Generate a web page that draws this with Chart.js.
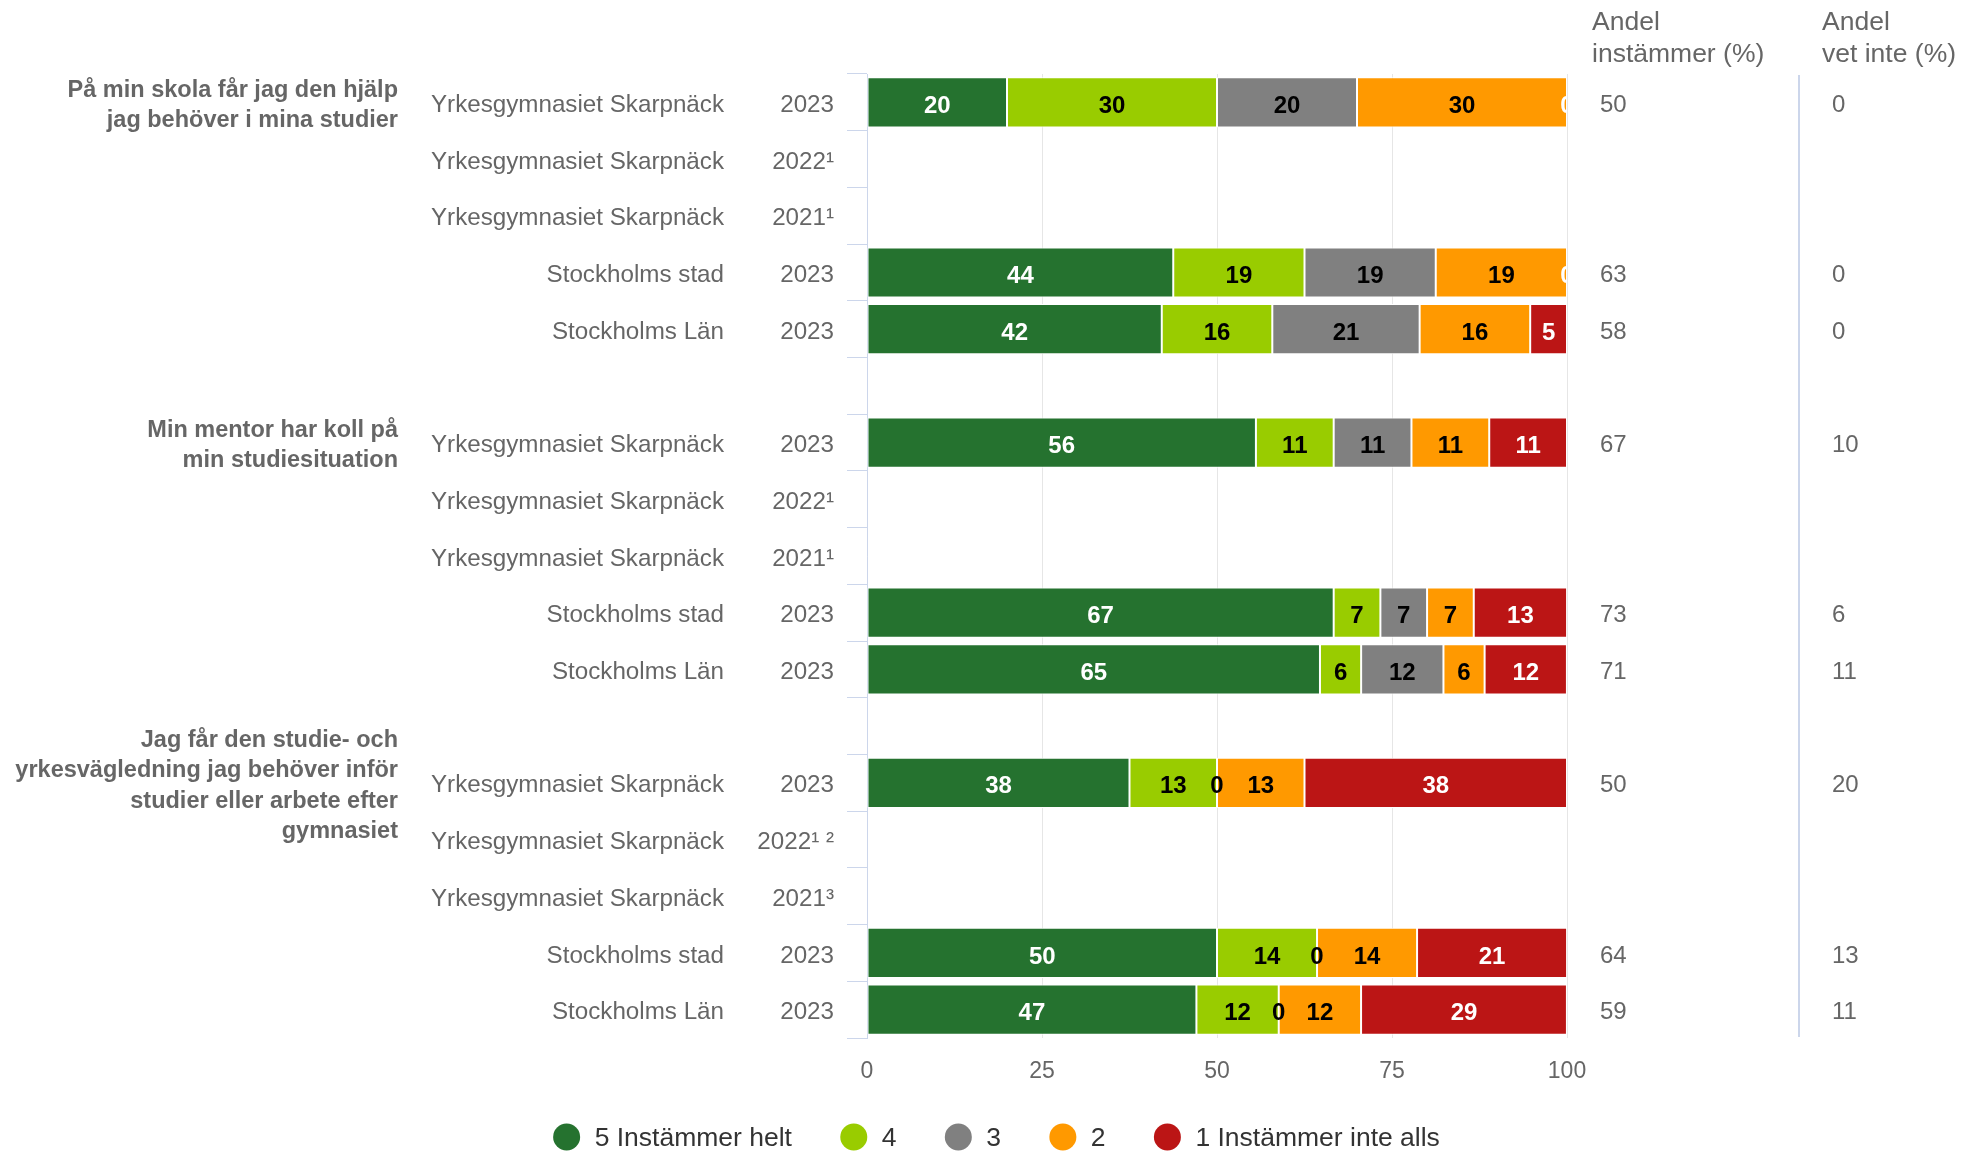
<!DOCTYPE html>
<html>
<head>
<meta charset="utf-8">
<script src="https://cdn.jsdelivr.net/npm/chart.js@4.4.1/dist/chart.umd.min.js"></script>
<style>
    html, body { margin: 0; padding: 0; background: #fff; }
    #wrap { width: 1962px; height: 1152px; position: relative; }
</style>
</head>
<body>
<div id="wrap"><canvas id="chart"></canvas></div>
<script>
    "use strict";

    // Rows (two empty spacer rows between the questions)
    const units = [
        "Yrkesgymnasiet Skarpnäck", "Yrkesgymnasiet Skarpnäck", "Yrkesgymnasiet Skarpnäck", "Stockholms stad", "Stockholms Län",
        "",
        "Yrkesgymnasiet Skarpnäck", "Yrkesgymnasiet Skarpnäck", "Yrkesgymnasiet Skarpnäck", "Stockholms stad", "Stockholms Län",
        "",
        "Yrkesgymnasiet Skarpnäck", "Yrkesgymnasiet Skarpnäck", "Yrkesgymnasiet Skarpnäck", "Stockholms stad", "Stockholms Län",
    ];
    const years = [
        "2023", "2022¹", "2021¹", "2023", "2023",
        "",
        "2023", "2022¹", "2021¹", "2023", "2023",
        "",
        "2023", "2022¹ ²", "2021³", "2023", "2023",
    ];

    const questions = [
        ["På min skola får jag den hjälp", "jag behöver i mina studier"],
        ["Min mentor har koll på", "min studiesituation"],
        ["Jag får den studie- och", "yrkesvägledning jag behöver inför", "studier eller arbete efter", "gymnasiet"],
    ];
    const questionRows = [0, 6, 12];

    // Answer shares in percent per row
    const helt5 = [20, null, null, 43.75, 42.11, null, 55.56, null, null, 66.67, 64.71, null, 37.5, null, null, 50, 47.06];
    const val4 = [30, null, null, 18.75, 15.79, null, 11.11, null, null, 6.67, 5.88, null, 12.5, null, null, 14.29, 11.76];
    const val3 = [20, null, null, 18.75, 21.05, null, 11.11, null, null, 6.67, 11.76, null, 0, null, null, 0, 0];
    const val2 = [30, null, null, 18.75, 15.79, null, 11.11, null, null, 6.67, 5.88, null, 12.5, null, null, 14.29, 11.76];
    const inteAlls1 = [0, null, null, 0, 5.26, null, 11.11, null, null, 13.33, 11.76, null, 37.5, null, null, 21.43, 29.41];

    const andelInstammer = [50, null, null, 63, 58, null, 67, null, null, 73, 71, null, 50, null, null, 64, 59];
    const andelVetInte = [0, null, null, 0, 0, null, 10, null, null, 6, 11, null, 20, null, null, 13, 11];

    const seriesNames = ["5 Instämmer helt", "4", "3", "2", "1 Instämmer inte alls"];
    const seriesColors = ["#25722f", "#99cc00", "#808080", "#ff9900", "#bb1515"];
    const labelColors = ["#ffffff", "#000000", "#000000", "#000000", "#ffffff"];

    const FONT = '"Liberation Sans", Arial, Helvetica, sans-serif';

    // Row labels, question labels and the two side columns
    const sideText = {
        id: "sideText",
        afterDraw(chart) {
            const { ctx, chartArea } = chart;
            const yScale = chart.scales.y;
            ctx.save();
            ctx.textBaseline = "middle";
            ctx.fillStyle = "#666666";

            ctx.font = "24.2px " + FONT;
            ctx.textAlign = "right";
            units.forEach((name, i) => {
                const py = yScale.getPixelForValue(i) + 3;
                ctx.fillText(name, chartArea.left - 143, py);
                ctx.fillText(years[i], chartArea.left - 33, py);
            });

            ctx.font = "bold 23.5px " + FONT;
            questions.forEach((lines, q) => {
                const cy = yScale.getPixelForValue(questionRows[q]) + 3;
                const lh = 30.5;
                const y0 = cy - (lines.length - 1) * lh / 2;
                lines.forEach((line, k) => ctx.fillText(line, 398, y0 + k * lh));
            });

            // side columns
            const c1 = chartArea.right + 25;
            const c2 = chartArea.right + 255;
            ctx.textAlign = "left";
            ctx.font = "26.5px " + FONT;
            ctx.fillText("Andel", c1, 23);
            ctx.fillText("instämmer (%)", c1, 55);
            ctx.fillText("Andel", c2, 23);
            ctx.fillText("vet inte (%)", c2, 55);

            ctx.font = "24px " + FONT;
            andelInstammer.forEach((v, i) => {
                if (v === null) return;
                const py = yScale.getPixelForValue(i) + 3;
                ctx.fillText(String(v), c1 + 8, py);
                ctx.fillText(String(andelVetInte[i]), c2 + 10, py);
            });

            ctx.strokeStyle = "#ccd6eb";
            ctx.lineWidth = 2;
            ctx.beginPath();
            ctx.moveTo(chartArea.right + 232, chartArea.top + 1);
            ctx.lineTo(chartArea.right + 232, chartArea.bottom - 1);
            ctx.stroke();
            ctx.restore();
        },
    };

    // Values inside the bars
    const barValues = {
        id: "barValues",
        afterDatasetsDraw(chart) {
            const { ctx, chartArea } = chart;
            ctx.save();
            ctx.beginPath();
            ctx.rect(chartArea.left, chartArea.top, chartArea.right - chartArea.left, chartArea.bottom - chartArea.top);
            ctx.clip();
            ctx.font = "bold 24px " + FONT;
            ctx.textAlign = "center";
            ctx.textBaseline = "middle";
            chart.data.datasets.forEach((ds, di) => {
                const meta = chart.getDatasetMeta(di);
                meta.data.forEach((bar, j) => {
                    const v = ds.data[j];
                    if (v === null || v === undefined) return;
                    const { x, base, y } = bar.getProps(["x", "base", "y"], true);
                    ctx.fillStyle = labelColors[di];
                    ctx.fillText(String(Math.round(v)), (x + base) / 2, y + 4);
                });
            });
            ctx.restore();
        },
    };

    // Legend row under the axis (circle markers, wide gaps)
    const bottomLegend = {
        id: "bottomLegend",
        afterDraw(chart) {
            const { ctx } = chart;
            const r = 13.5;
            const textOffset = 41.5;
            const gap = 48.3;
            ctx.save();
            ctx.font = "26.5px " + FONT;
            ctx.textAlign = "left";
            ctx.textBaseline = "middle";
            const widths = chart.data.datasets.map((ds) => textOffset + ctx.measureText(ds.label).width);
            const total = widths.reduce((a, b) => a + b, 0) + gap * (widths.length - 1);
            let x = 996.5 - total / 2;
            const cy = 1137;
            chart.data.datasets.forEach((ds, i) => {
                ctx.fillStyle = ds.backgroundColor;
                ctx.beginPath();
                ctx.arc(x + r, cy, r, 0, Math.PI * 2);
                ctx.fill();
                ctx.fillStyle = "#333333";
                ctx.fillText(ds.label, x + textOffset, cy + 2);
                x += widths[i] + gap;
            });
            ctx.restore();
        },
    };

    const seriesData = [helt5, val4, val3, val2, inteAlls1];

    const ctx = document.getElementById("chart").getContext("2d");
    new Chart(ctx, {
        type: "bar",
        data: {
            labels: units.map((u, i) => (u ? u + " " + years[i] : "")),
            datasets: seriesData.map((data, i) => ({
                label: seriesNames[i],
                data: data,
                backgroundColor: seriesColors[i],
                borderColor: "#ffffff",
                borderWidth: 1,
                borderSkipped: false,
                barPercentage: 0.885,
                categoryPercentage: 1,
                yAxisID: "y",
            })),
        },
        options: {
            indexAxis: "y",
            responsive: true,
            maintainAspectRatio: false,
            animation: false,
            layout: { padding: { top: 74, bottom: 64, left: 0, right: 0 } },
            scales: {
                x: {
                    stacked: true,
                    min: 0,
                    max: 100,
                    ticks: { stepSize: 25, color: "#666666", font: { family: FONT, size: 23 }, padding: 20 },
                    grid: { color: "#e6e6e6", drawTicks: false },
                    border: { display: false },
                    afterFit(scale) { scale.height = 50; },
                },
                y: {
                    stacked: true,
                    ticks: { display: false },
                    grid: { offset: true, drawOnChartArea: false, tickLength: 20, color: "#ccd6eb" },
                    border: { display: true, color: "#ccd6eb" },
                    afterFit(scale) { scale.width = 867; },
                },
                yRight: {
                    type: "category",
                    position: "right",
                    ticks: { display: false },
                    grid: { display: false, drawTicks: false },
                    border: { display: false },
                    afterFit(scale) { scale.width = 395; },
                },
            },
            plugins: {
                tooltip: { enabled: false },
                legend: { display: false },
            },
        },
        plugins: [sideText, barValues, bottomLegend],
    });
</script>
</body>
</html>
